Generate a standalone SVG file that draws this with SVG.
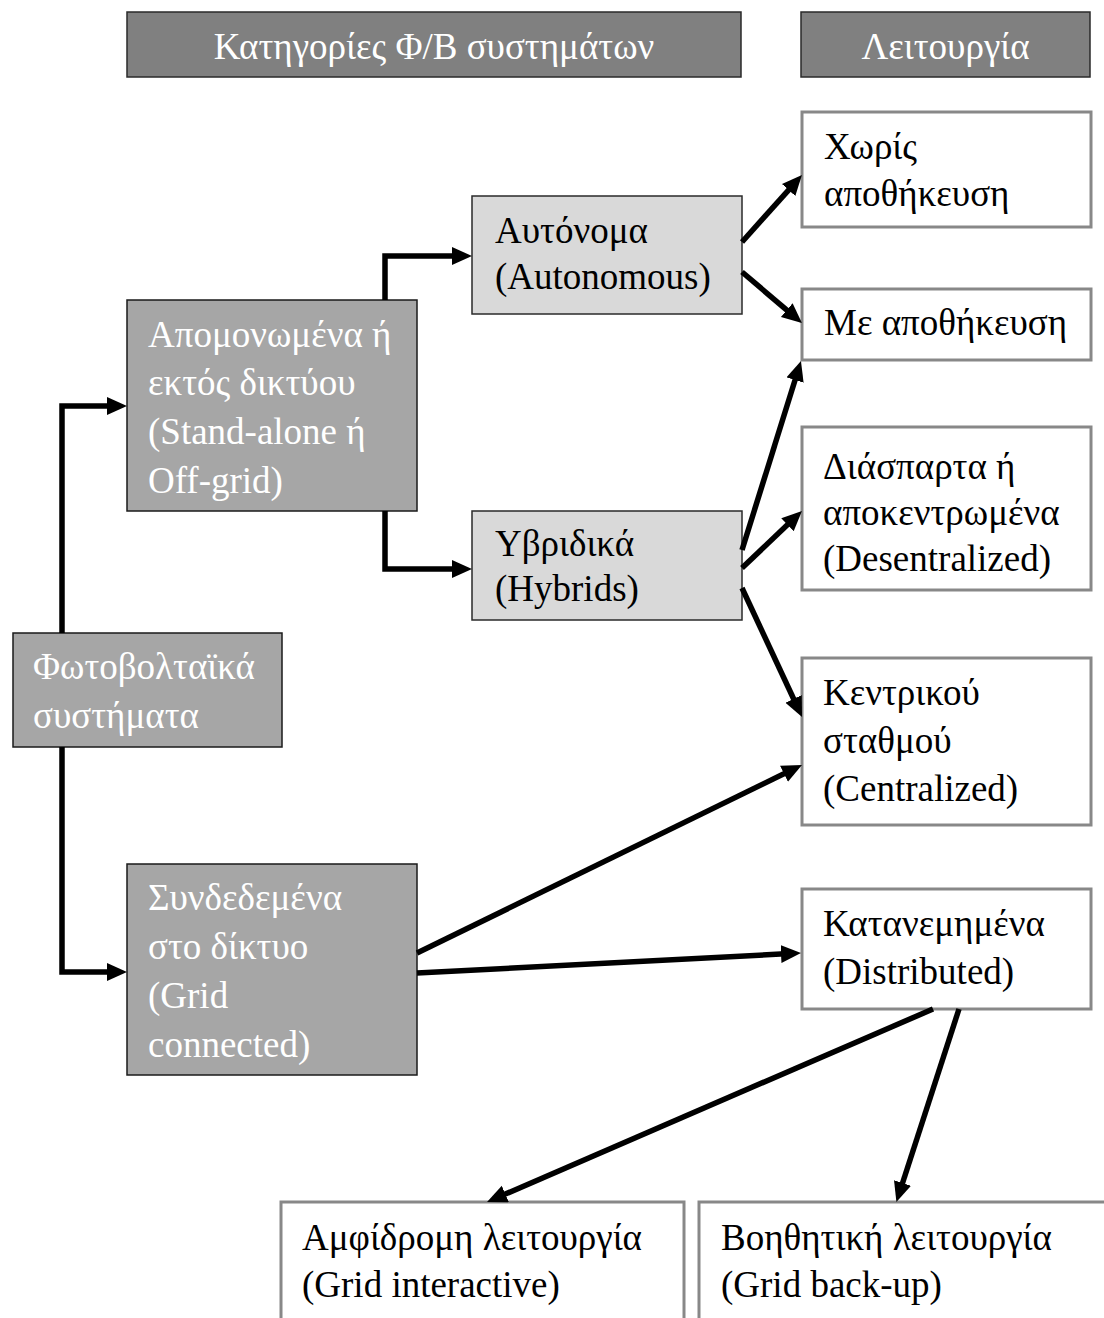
<svg xmlns="http://www.w3.org/2000/svg" width="1104" height="1318" viewBox="0 0 1104 1318">
<style>
text{font-family:"Liberation Serif","Times New Roman",serif;font-size:37px}
.hdr{fill:#808080;stroke:#2a2a2a;stroke-width:1.5}
.dark{fill:#a6a6a6;stroke:#1a1a1a;stroke-width:1.5}
.light{fill:#d9d9d9;stroke:#2a2a2a;stroke-width:1.5}
.white{fill:#ffffff;stroke:#888888;stroke-width:3}
.wt{fill:#ffffff}
.bt{fill:#000000}
.conn{fill:none;stroke:#000;stroke-width:5.5;stroke-linejoin:miter}
</style>
<defs>
<marker id="ah" markerUnits="userSpaceOnUse" markerWidth="22" markerHeight="20" refX="9" refY="9" orient="auto">
<path d="M0,0 L20,9 L0,18 z" fill="#000"/>
</marker>
</defs>
<rect width="1104" height="1318" fill="#ffffff"/>

<g id="hdr-categories">
<rect class="hdr" x="127" y="12" width="614" height="65"/>
<text class="wt" x="434" y="59" text-anchor="middle">Κατηγορίες Φ/Β συστημάτων</text>
</g>
<g id="hdr-function">
<rect class="hdr" x="801" y="12" width="289" height="65"/>
<text class="wt" x="945.5" y="59" text-anchor="middle">Λειτουργία</text>
</g>

<g id="pv">
<rect class="dark" x="13" y="633" width="269" height="114"/>
<text class="wt" x="33" y="679">Φωτοβολταϊκά</text>
<text class="wt" x="33" y="728">συστήματα</text>
</g>
<g id="standalone">
<rect class="dark" x="127" y="300" width="290" height="211"/>
<text class="wt" x="148" y="347">Απομονωμένα ή</text>
<text class="wt" x="148" y="395">εκτός δικτύου</text>
<text class="wt" x="148" y="444">(Stand-alone ή</text>
<text class="wt" x="148" y="493">Off-grid)</text>
</g>
<g id="gridconnected">
<rect class="dark" x="127" y="864" width="290" height="211"/>
<text class="wt" x="148" y="910">Συνδεδεμένα</text>
<text class="wt" x="148" y="959">στο δίκτυο</text>
<text class="wt" x="148" y="1008">(Grid</text>
<text class="wt" x="148" y="1057">connected)</text>
</g>
<g id="autonomous">
<rect class="light" x="472" y="196" width="270" height="118"/>
<text class="bt" x="495" y="243">Αυτόνομα</text>
<text class="bt" x="495" y="289">(Autonomous)</text>
</g>
<g id="hybrids">
<rect class="light" x="472" y="511" width="270" height="109"/>
<text class="bt" x="495" y="556">Υβριδικά</text>
<text class="bt" x="495" y="601">(Hybrids)</text>
</g>
<g id="nostorage">
<rect class="white" x="802" y="112" width="289" height="115"/>
<text class="bt" x="824" y="159">Χωρίς</text>
<text class="bt" x="824" y="206">αποθήκευση</text>
</g>
<g id="storage">
<rect class="white" x="802" y="289" width="289" height="71"/>
<text class="bt" x="824" y="335">Με αποθήκευση</text>
</g>
<g id="decentralized">
<rect class="white" x="802" y="427" width="289" height="163"/>
<text class="bt" x="823" y="479">Διάσπαρτα ή</text>
<text class="bt" x="823" y="525">αποκεντρωμένα</text>
<text class="bt" x="823" y="571">(Desentralized)</text>
</g>
<g id="centralized">
<rect class="white" x="802" y="658" width="289" height="167"/>
<text class="bt" x="823" y="705">Κεντρικού</text>
<text class="bt" x="823" y="753">σταθμού</text>
<text class="bt" x="823" y="801">(Centralized)</text>
</g>
<g id="distributed">
<rect class="white" x="802" y="889" width="289" height="120"/>
<text class="bt" x="823" y="936">Κατανεμημένα</text>
<text class="bt" x="823" y="984">(Distributed)</text>
</g>
<g id="interactive">
<rect class="white" x="281" y="1202" width="403" height="140"/>
<text class="bt" x="302" y="1250">Αμφίδρομη λειτουργία</text>
<text class="bt" x="302" y="1297">(Grid interactive)</text>
</g>
<g id="backup">
<rect class="white" x="699" y="1202" width="440" height="140"/>
<text class="bt" x="721" y="1250">Βοηθητική λειτουργία</text>
<text class="bt" x="721" y="1297">(Grid back-up)</text>
</g>

<g id="connectors">
<path class="conn" d="M62 633 V406 H116" marker-end="url(#ah)"/>
<path class="conn" d="M62 747 V972 H116" marker-end="url(#ah)"/>
<path class="conn" d="M385 300 V256 H461" marker-end="url(#ah)"/>
<path class="conn" d="M385 511 V569 H461" marker-end="url(#ah)"/>
<path class="conn" d="M742 242 L794.6 183.3" marker-end="url(#ah)"/>
<path class="conn" d="M742 272 L793.6 315.9" marker-end="url(#ah)"/>
<path class="conn" d="M742 550 L797.7 371.5" marker-end="url(#ah)"/>
<path class="conn" d="M742 568 L794 518.6" marker-end="url(#ah)"/>
<path class="conn" d="M742 588 L797.4 707" marker-end="url(#ah)"/>
<path class="conn" d="M417 953 L792.1 769.8" marker-end="url(#ah)"/>
<path class="conn" d="M417 973 L790 953.6" marker-end="url(#ah)"/>
<path class="conn" d="M933 1009 L497.1 1197.6" marker-end="url(#ah)"/>
<path class="conn" d="M959 1009 L899.8 1191.5" marker-end="url(#ah)"/>
</g>
</svg>
